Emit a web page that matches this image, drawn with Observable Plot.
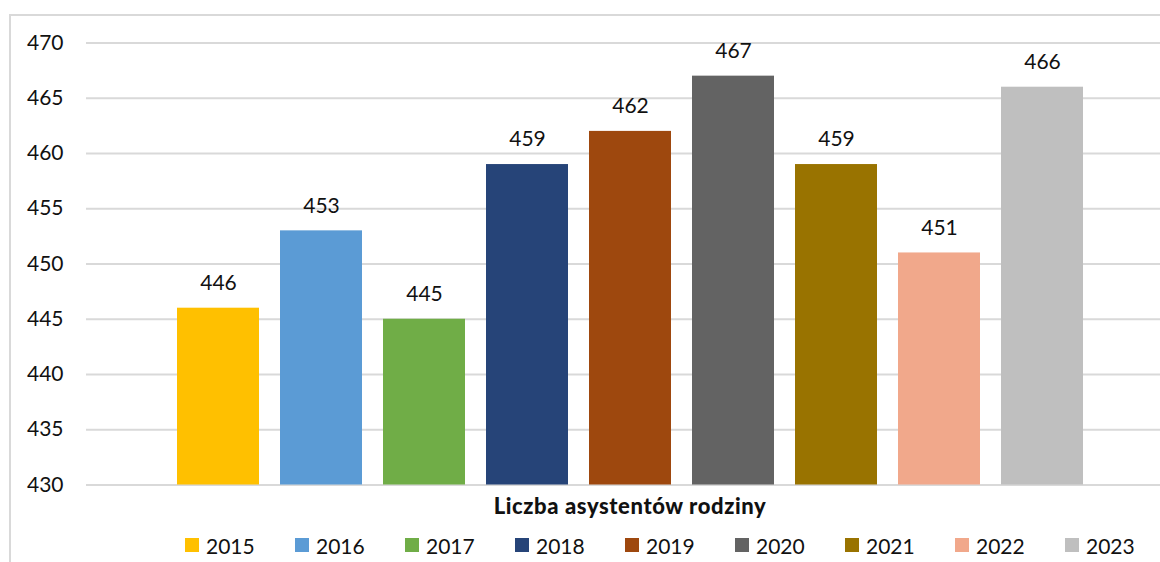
<!DOCTYPE html>
<html>
<head>
<meta charset="utf-8">
<script src="https://cdn.jsdelivr.net/npm/d3@7"></script>
<script src="https://cdn.jsdelivr.net/npm/@observablehq/plot@0.6"></script>
<style>
  html, body { margin: 0; padding: 0; background: #fff; overflow: hidden; }
  body { width: 1160px; height: 562px; position: relative; font-family: Lato, "Open Sans", sans-serif; color: #111; }
  #frame { position: absolute; left: 9px; top: 14px; width: 1300px; height: 700px;
           border-top: 2px solid #d9d9d9; border-left: 2px solid #d9d9d9; box-sizing: border-box; }
  #chart { position: absolute; left: 0; top: 0; }
  #title { position: absolute; top: 492px; left: 0; width: 1160px; padding-left: 100px; box-sizing: border-box;
           text-align: center; font-weight: 900; font-size: 22px; letter-spacing: 0.6px; }
  #legend { position: absolute; top: 532px; left: 185px; display: flex; font-size: 21px; }
  .item { width: 110px; display: flex; align-items: center; height: 26px; }
  .sw { width: 14px; height: 14px; margin-right: 7px; flex: none; }
</style>
</head>
<body>
<div id="frame"></div>
<div id="chart"></div>
<div id="title"></div>
<div id="legend"></div>
<script>
const years = ["2015", "2016", "2017", "2018", "2019", "2020", "2021", "2022", "2023"];
const values = [446, 453, 445, 459, 462, 467, 459, 451, 466];
const colors = ["#FFC000", "#5B9BD5", "#70AD47", "#264478", "#9E480E", "#636363", "#997300", "#F1A88B", "#BFBFBF"];
const yTicks = [430, 435, 440, 445, 450, 455, 460, 465, 470];
const yMin = 430, yMax = 470;
const axisTitle = "Liczba asystentów rodziny";

const data = years.map((y, i) => ({year: y, value: values[i]}));

const chart = Plot.plot({
  width: 1160,
  height: 490,
  marginTop: 42.5,
  marginBottom: 5.5,
  marginLeft: 86,
  marginRight: 0,
  style: {fontFamily: "Lato, 'Open Sans', sans-serif", fontSize: "21px", color: "#111", background: "transparent", overflow: "visible"},
  x: {domain: years, range: [164.6, 1095.2], paddingInner: 0.2, paddingOuter: 0.1, axis: null},
  y: {domain: [yMin, yMax], axis: null},
  color: {domain: years, range: colors},
  marks: [
    Plot.gridY(yTicks, {stroke: "#d9d9d9", strokeOpacity: 1, strokeWidth: 2}),
    Plot.axisY(yTicks, {tickSize: 0, tickPadding: 23, fontSize: 21, label: null, fill: "#111"}),
    Plot.barY(data, {x: "year", y1: yMin, y2: "value", fill: "year"}),
    Plot.text(data, {x: "year", y: "value", text: d => String(d.value), dy: -25, fontSize: 21, fill: "#111"})
  ]
});
document.getElementById("chart").appendChild(chart);
document.getElementById("title").textContent = axisTitle;

const legend = d3.select("#legend");
years.forEach((y, i) => {
  const it = legend.append("div").attr("class", "item");
  it.append("div").attr("class", "sw").style("background", colors[i]);
  it.append("span").text(y);
});
</script>
</body>
</html>
